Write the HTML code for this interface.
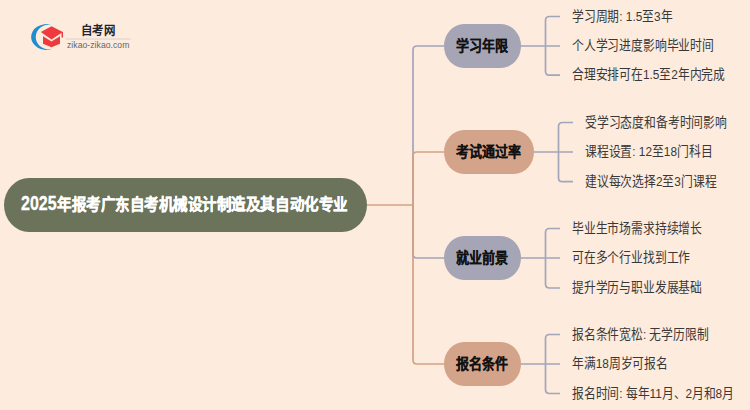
<!DOCTYPE html>
<html lang="zh-CN">
<head>
<meta charset="utf-8">
<style>
html,body{margin:0;padding:0;}
body{width:750px;height:410px;overflow:hidden;background:#FDEBDD;position:relative;font-family:"Liberation Sans",sans-serif;}
svg.lines{position:absolute;left:0;top:0;}
.node{position:absolute;box-sizing:border-box;}
.t{position:absolute;white-space:nowrap;line-height:1;transform-origin:0 50%;}
.main{left:4px;top:178px;width:363px;height:54px;background:#6B735B;border-radius:25px/27px;}
.n{left:444px;height:44px;border-radius:20px/22px;}
.gray{background:#A5A5B5;}
.tan{background:#D4A48A;}
.nt{font-size:13px;font-weight:bold;color:#111;-webkit-text-stroke:0.1px #111;}
.ct{font-size:12px;color:#383838;}
</style>
</head>
<body>
<!-- logo -->
<svg style="position:absolute;left:0;top:0" width="140" height="60">
  <path d="M51.5,24.5 A16,13 0 1 0 51.5,49.5 A14,12.6 0 1 1 51.5,24.5 Z" fill="#1E8ECF"/>
  <path d="M40.8,32 L51.5,26.3 L62.8,32 L51.5,39.5 Z" fill="#EE3A3E"/>
  <path d="M61.5,32 L63,32 L63,37.5 L61.5,37.5 Z" fill="#EE3A3E"/>
  <path d="M43,36.3 L51.5,41.5 L60,36.3 L60,43.8 L51.5,47.2 L43,43.8 Z" fill="#EE3A3E"/>
  <line x1="65.5" y1="39" x2="130.5" y2="39" stroke="#CBCDD3" stroke-width="0.8"/>
</svg>
<div class="t" style="left:80.8px;top:30.6px;font-size:12px;font-weight:bold;color:#1F2530;transform:translateY(-50%) scaleX(0.95)">自考网</div>
<div class="t" style="left:67px;top:45px;font-size:8.6px;color:#666;letter-spacing:0.05px;transform:translateY(-50%)">zikao-zikao.com</div>

<svg class="lines" width="750" height="410">
  <g fill="none" stroke-width="1.7">
    <path d="M413,205 V50 Q413,46 417,46 H444" stroke="#A3A5BB"/>
    <path d="M413,205 V254 Q413,258 417,258 H444" stroke="#A3A5BB"/>
    <path d="M413,205 V156 Q413,152 417,152 H444" stroke="#D3A285"/>
    <path d="M413,205 V360 Q413,364 417,364 H444" stroke="#D3A285"/>
    <path d="M367,205 H413" stroke="#D3A285"/>
    <!-- group 1 -->
    <path d="M521,46 H545.5 M560,16.5 H549.5 Q545.5,16.5 545.5,20.5 V71.2 Q545.5,75.2 549.5,75.2 H560 M545.5,46 H560" stroke="#A3A5BB"/>
    <!-- group 2 -->
    <path d="M534,152 H558.5 M573,122.5 H562.5 Q558.5,122.5 558.5,126.5 V177.7 Q558.5,181.7 562.5,181.7 H573 M558.5,152 H573" stroke="#A3A5BB"/>
    <!-- group 3 -->
    <path d="M521,258 H545.5 M560,228.5 H549.5 Q545.5,228.5 545.5,232.5 V284 Q545.5,288 549.5,288 H560 M545.5,258 H560" stroke="#A3A5BB"/>
    <!-- group 4 -->
    <path d="M521,364 H545.5 M560,334.5 H549.5 Q545.5,334.5 545.5,338.5 V389.5 Q545.5,393.5 549.5,393.5 H560 M545.5,364 H560" stroke="#A3A5BB"/>
  </g>
</svg>

<div class="node main"></div>
<div class="t" style="left:21px;top:203.5px;font-size:18px;font-weight:bold;color:#fff;-webkit-text-stroke:0.3px #fff;transform:translateY(-50%) scale(0.89,1.08)">2025</div>
<div class="t" style="left:57.4px;top:204.2px;font-size:15px;font-weight:bold;color:#fff;-webkit-text-stroke:0.35px #fff;transform:translateY(-50%) scale(0.969,1.05)">年报考广东自考机械设计制造及其自动化专业</div>

<div class="node n gray" style="top:24px;width:77px"></div>
<div class="t nt" style="left:455.5px;top:45.5px;transform:translateY(-50%) scaleY(1.1)">学习年限</div>
<div class="node n tan" style="top:130px;width:90px"></div>
<div class="t nt" style="left:455.5px;top:151.5px;transform:translateY(-50%) scaleY(1.1)">考试通过率</div>
<div class="node n gray" style="top:236px;width:77px"></div>
<div class="t nt" style="left:455.5px;top:257.5px;transform:translateY(-50%) scaleY(1.1)">就业前景</div>
<div class="node n tan" style="top:342px;width:77px"></div>
<div class="t nt" style="left:455.5px;top:363.5px;transform:translateY(-50%) scaleY(1.1)">报名条件</div>

<div class="t ct" style="left:571.5px;top:16.5px;transform:translateY(-50%) scale(0.985,1.1)">学习周期: 1.5至3年</div>
<div class="t ct" style="left:571.5px;top:46px;transform:translateY(-50%) scale(0.985,1.1)">个人学习进度影响毕业时间</div>
<div class="t ct" style="left:571.5px;top:75.2px;transform:translateY(-50%) scale(0.985,1.1)">合理安排可在1.5至2年内完成</div>

<div class="t ct" style="left:584.5px;top:122.5px;transform:translateY(-50%) scale(0.985,1.1)">受学习态度和备考时间影响</div>
<div class="t ct" style="left:584.5px;top:152px;transform:translateY(-50%) scale(0.985,1.1)">课程设置: 12至18门科目</div>
<div class="t ct" style="left:584.5px;top:181.7px;transform:translateY(-50%) scale(0.985,1.1)">建议每次选择2至3门课程</div>

<div class="t ct" style="left:571.5px;top:228.5px;transform:translateY(-50%) scale(0.985,1.1)">毕业生市场需求持续增长</div>
<div class="t ct" style="left:571.5px;top:258px;transform:translateY(-50%) scale(0.985,1.1)">可在多个行业找到工作</div>
<div class="t ct" style="left:571.5px;top:288px;transform:translateY(-50%) scale(0.985,1.1)">提升学历与职业发展基础</div>

<div class="t ct" style="left:571.5px;top:334.5px;transform:translateY(-50%) scale(0.985,1.1)">报名条件宽松: 无学历限制</div>
<div class="t ct" style="left:571.5px;top:364px;transform:translateY(-50%) scale(0.985,1.1)">年满18周岁可报名</div>
<div class="t ct" style="left:571.5px;top:393.5px;transform:translateY(-50%) scale(0.985,1.1)">报名时间: 每年11月、2月和8月</div>
</body>
</html>
